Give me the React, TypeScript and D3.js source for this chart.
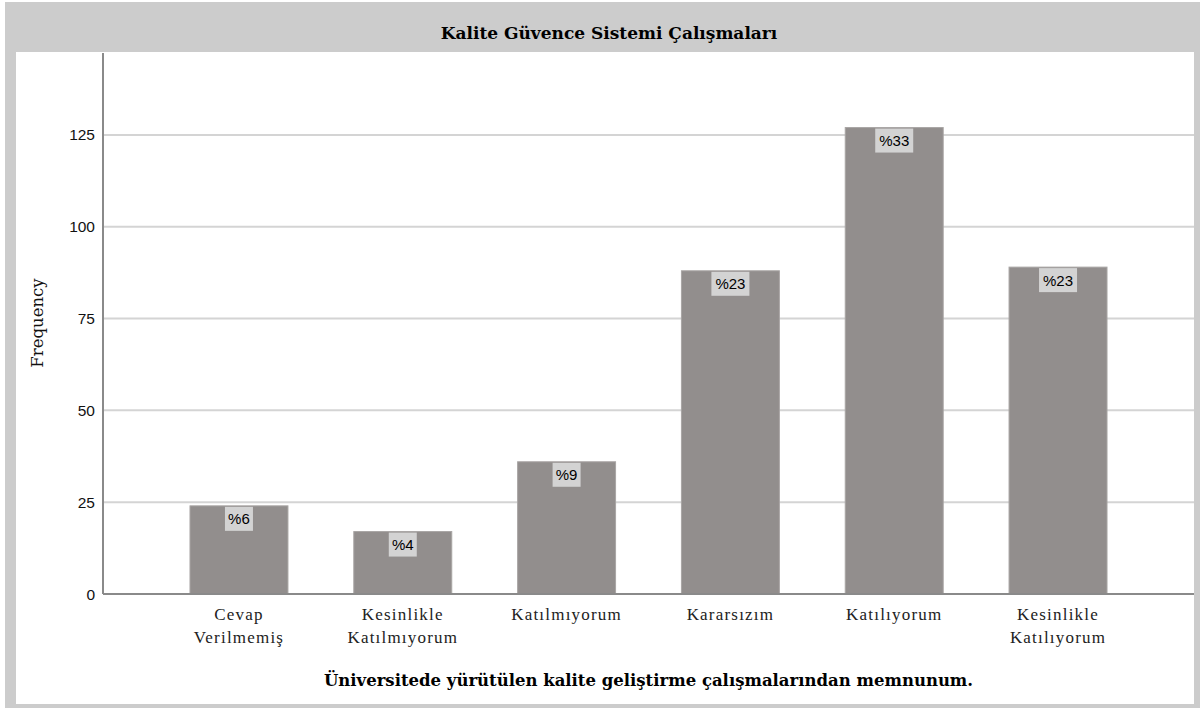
import React from "react";
import * as d3 from "d3";

const categories: string[][] = [
  ["Cevap", "Verilmemiş"],
  ["Kesinlikle", "Katılmıyorum"],
  ["Katılmıyorum"],
  ["Kararsızım"],
  ["Katılıyorum"],
  ["Kesinlikle", "Katılıyorum"],
];
const frequencies: number[] = [24, 17, 36, 88, 127, 89];
const percentLabels: string[] = ["%6", "%4", "%9", "%23", "%33", "%23"];
const yTicks: number[] = [0, 25, 50, 75, 100, 125];

const title = "Kalite Güvence Sistemi Çalışmaları";
const xTitle = "Üniversitede yürütülen kalite geliştirme çalışmalarından memnunum.";
const yTitle = "Frequency";

const W = 1203;
const H = 709;
const plotLeft = 103;
const plotRight = 1194;
const plotTop = 53;
const plotBottom = 594;

export default function App() {
  const keys = categories.map((c) => c.join(" "));
  const x = d3
    .scaleBand<string>()
    .domain(keys)
    .range([plotLeft, plotRight])
    .paddingInner(0.402)
    .paddingOuter(0.531);
  const y = d3.scaleLinear().domain([0, 147.3]).range([plotBottom, plotTop]);
  const serif = "'DejaVu Serif', serif";
  const lserif = "'Liberation Serif', 'Times New Roman', serif";
  const sans = "'Liberation Sans', Arial, sans-serif";

  return (
    <svg
      width={W}
      height={H}
      style={{ position: "absolute", left: 0, top: 0, display: "block" }}
    >
      <rect x={0} y={0} width={W} height={H} fill="#ffffff" />
      <rect x={5} y={2} width={1195} height={706} fill="#cccccc" />
      <rect x={16} y={52} width={1178} height={652} fill="#ffffff" />
      <text
        x={609}
        y={39}
        textAnchor="middle"
        fontFamily={serif}
        fontWeight="bold"
        fontSize={17}
        fill="#000"
      >
        {title}
      </text>

      {yTicks.map((t) => (
        <g key={t}>
          {t > 0 && (
            <line
              x1={plotLeft}
              x2={plotRight}
              y1={y(t)}
              y2={y(t)}
              stroke="#d4d4d4"
              strokeWidth={2}
            />
          )}
          <text
            x={95}
            y={y(t) + 5.5}
            textAnchor="end"
            fontFamily={sans}
            fontSize={15.5}
            fill="#111"
          >
            {t}
          </text>
        </g>
      ))}

      {frequencies.map((v, i) => {
        const k = keys[i];
        const bx = x(k)!;
        const bw = x.bandwidth();
        const by = y(v);
        const cx = bx + bw / 2;
        const lblW = percentLabels[i].length * 10 + 8;
        return (
          <g key={k}>
            <rect
              x={bx}
              y={by}
              width={bw}
              height={plotBottom - by}
              fill="#928e8d"
              stroke="#a8a5a4"
              strokeWidth={1}
            />
            <rect
              x={cx - lblW / 2}
              y={by + 1}
              width={lblW}
              height={24}
              fill="#d3d3d3"
            />
            <text
              x={cx}
              y={by + 18.5}
              textAnchor="middle"
              fontFamily={sans}
              fontSize={15}
              fill="#000"
            >
              {percentLabels[i]}
            </text>
          </g>
        );
      })}

      <line
        x1={plotLeft}
        x2={plotLeft}
        y1={plotTop}
        y2={plotBottom}
        stroke="#8a8a8a"
        strokeWidth={2}
      />
      <line
        x1={plotLeft}
        x2={plotRight}
        y1={plotBottom}
        y2={plotBottom}
        stroke="#8a8a8a"
        strokeWidth={2}
      />

      {categories.map((lines, i) => {
        const k = keys[i];
        const cx = x(k)! + x.bandwidth() / 2;
        return (
          <text
            key={k}
            textAnchor="middle"
            fontFamily={lserif}
            fontSize={17}
            letterSpacing={1.2}
            fill="#222"
          >
            {lines.map((l, j) => (
              <tspan key={j} x={cx} y={620 + j * 23}>
                {l}
              </tspan>
            ))}
          </text>
        );
      })}

      <text
        x={(plotLeft + plotRight) / 2}
        y={686}
        textAnchor="middle"
        fontFamily={serif}
        fontWeight="bold"
        fontSize={16.5}
        fill="#000"
      >
        {xTitle}
      </text>

      <text
        transform={`translate(43, 323) rotate(-90)`}
        textAnchor="middle"
        fontFamily={serif}
        fontSize={16.5}
        fill="#111"
      >
        {yTitle}
      </text>
    </svg>
  );
}
